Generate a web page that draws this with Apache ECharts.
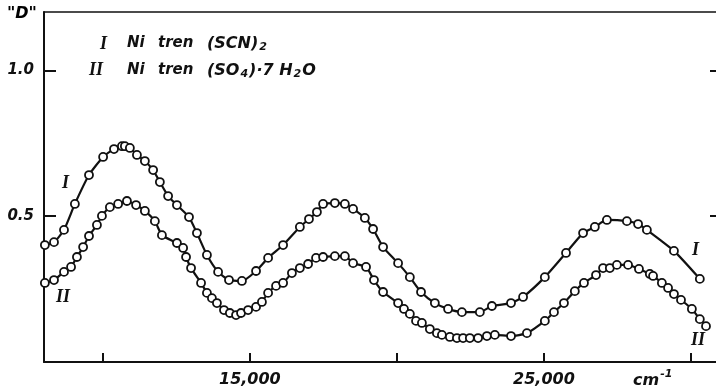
<!DOCTYPE html>
<html lang="en">
<head>
    <meta charset="utf-8" />
    <title>Ni tren spectra</title>
    <script src="https://cdn.jsdelivr.net/npm/echarts@6/dist/echarts.min.js"></script>
    <style>
        html, body { margin: 0; padding: 0; background: #fff; }
        #main { width: 716px; height: 389px; }
    </style>
</head>
<body>
<div id="main"></div>
<script>
    // curve I : Ni tren (SCN)2
    var waveI = [8030, 8340, 8680, 9050, 9530, 10010, 10380, 10650, 10750, 10920, 11160, 11430, 11710, 11940,
        12220, 12520, 12930, 13200, 13540, 13920, 14290, 14730, 15210, 15620, 16130, 16700, 17010, 17280, 17490,
        17890, 18230, 18510, 18910, 19190, 19530, 20040, 20440, 20820, 21290, 21740, 22210, 22820, 23230, 23880,
        24290, 25030, 25750, 26330, 26730, 27140, 27820, 28200, 28500, 29420, 30300];
    var absI = [0.401, 0.411, 0.453, 0.542, 0.641, 0.703, 0.730, 0.740, 0.740, 0.734, 0.710, 0.689, 0.658, 0.617,
        0.569, 0.538, 0.497, 0.442, 0.367, 0.309, 0.281, 0.278, 0.312, 0.357, 0.401, 0.463, 0.490, 0.514, 0.542,
        0.545, 0.542, 0.525, 0.494, 0.456, 0.394, 0.339, 0.291, 0.240, 0.202, 0.182, 0.171, 0.171, 0.192, 0.202,
        0.223, 0.291, 0.374, 0.442, 0.463, 0.487, 0.483, 0.473, 0.453, 0.381, 0.285];

    // curve II : Ni tren (SO4)·7H2O
    var waveII = [8030, 8340, 8680, 8920, 9120, 9330, 9530, 9800, 9970, 10240, 10520, 10820, 11130, 11430, 11770,
        12010, 12520, 12730, 12830, 13000, 13340, 13540, 13710, 13880, 14120, 14320, 14530, 14700, 14940, 15210,
        15410, 15620, 15890, 16130, 16430, 16700, 16980, 17250, 17490, 17890, 18230, 18510, 18950, 19220, 19530,
        20040, 20240, 20440, 20650, 20850, 21120, 21360, 21530, 21800, 22040, 22250, 22480, 22760, 23060, 23330,
        23880, 24420, 25030, 25340, 25680, 26050, 26360, 26770, 27010, 27240, 27480, 27860, 28230, 28600, 28710,
        29010, 29220, 29420, 29660, 30030, 30300, 30510];
    var absII = [0.271, 0.281, 0.309, 0.326, 0.360, 0.394, 0.432, 0.470, 0.501, 0.531, 0.542, 0.552, 0.538, 0.518,
        0.483, 0.435, 0.408, 0.391, 0.360, 0.322, 0.271, 0.237, 0.219, 0.202, 0.178, 0.168, 0.161, 0.168, 0.178,
        0.189, 0.206, 0.237, 0.261, 0.271, 0.305, 0.322, 0.336, 0.357, 0.360, 0.363, 0.363, 0.339, 0.326, 0.281,
        0.240, 0.202, 0.182, 0.165, 0.141, 0.134, 0.113, 0.099, 0.093, 0.086, 0.082, 0.082, 0.082, 0.082, 0.089,
        0.093, 0.089, 0.099, 0.141, 0.171, 0.202, 0.243, 0.271, 0.298, 0.322, 0.322, 0.333, 0.333, 0.319, 0.302,
        0.295, 0.271, 0.254, 0.233, 0.213, 0.182, 0.147, 0.123];

    var xTicks = [10000, 15000, 20000, 25000, 30000];
    var xLabels = [15000, 25000];
    var yTicks = [0.5, 1.0];

    function pairs(xs, ys) {
        var out = [];
        for (var i = 0; i < xs.length; i++) out.push([xs[i], ys[i]]);
        return out;
    }

    var ink = '#111';
    var numFont = { color: ink, fontFamily: 'DejaVu Sans', fontWeight: 'bold', fontStyle: 'italic' };

    var chart = echarts.init(document.getElementById('main'));

    function curve(name, data) {
        return {
            name: name,
            type: 'line',
            data: data,
            smooth: 0.2,
            symbol: 'circle',
            symbolSize: 8,
            showSymbol: true,
            lineStyle: { color: ink, width: 2.2 },
            itemStyle: { color: '#fff', borderColor: ink, borderWidth: 1.8 },
            z: 3
        };
    }

    var option = {
        animation: false,
        backgroundColor: '#fff',
        grid: { left: 44, top: 12, width: 672, height: 350, containLabel: false },
        xAxis: [{
            type: 'value',
            min: 8000,
            max: 30850,
            position: 'bottom',
            axisLine: { show: true, onZero: false, lineStyle: { color: ink, width: 2 } },
            axisTick: { show: true, inside: true, length: 9, customValues: xTicks, lineStyle: { color: ink, width: 2 } },
            axisLabel: Object.assign({ customValues: xLabels, margin: 10, fontSize: 16 }, numFont),
            splitLine: { show: false }
        }, {
            type: 'value',
            min: 8000,
            max: 30850,
            position: 'top',
            axisLine: { show: true, onZero: false, lineStyle: { color: ink, width: 1.5 } },
            axisTick: { show: false },
            axisLabel: { show: false },
            splitLine: { show: false }
        }],
        yAxis: [{
            type: 'value',
            min: 0,
            max: 1.2,
            position: 'left',
            axisLine: { show: true, onZero: false, lineStyle: { color: ink, width: 2 } },
            axisTick: { show: true, inside: true, length: 12, customValues: yTicks, lineStyle: { color: ink, width: 2 } },
            axisLabel: Object.assign({
                customValues: yTicks, margin: 10, fontSize: 15,
                formatter: function (v) { return v.toFixed(1); }
            }, numFont),
            splitLine: { show: false }
        }, {
            type: 'value',
            min: 0,
            max: 1.2,
            position: 'right',
            axisLine: { show: false },
            axisTick: { show: true, inside: true, length: 6, customValues: yTicks, lineStyle: { color: ink, width: 2 } },
            axisLabel: { show: false },
            splitLine: { show: false }
        }],
        series: [
            curve('I', pairs(waveI, absI)),
            curve('II', pairs(waveII, absII))
        ],
        graphic: [
            { type: 'text', left: 7, top: 6, style: Object.assign({ text: '"D"', fontSize: 16 }, numFont) },
            // legend
            { type: 'text', left: 100, top: 35, style: { text: 'I', fill: ink, font: 'italic bold 18px "Liberation Serif"' } },
            { type: 'text', left: 127, top: 36, style: { text: 'Ni', fill: ink, font: 'italic bold 15px "DejaVu Sans"' } },
            { type: 'text', left: 158, top: 36, style: { text: 'tren', fill: ink, font: 'italic bold 15px "DejaVu Sans"' } },
            { type: 'text', left: 207, top: 36, style: {
                text: '{a|(SCN)}{s|2}',
                rich: {
                    a: { fill: ink, font: 'italic bold 16px "DejaVu Sans"' },
                    s: { fill: ink, font: 'italic bold 11px "DejaVu Sans"', padding: [7, 0, 0, 1] }
                }
            } },
            { type: 'text', left: 89, top: 61, style: { text: 'II', fill: ink, font: 'italic bold 18px "Liberation Serif"' } },
            { type: 'text', left: 127, top: 63, style: { text: 'Ni', fill: ink, font: 'italic bold 15px "DejaVu Sans"' } },
            { type: 'text', left: 158, top: 63, style: { text: 'tren', fill: ink, font: 'italic bold 15px "DejaVu Sans"' } },
            { type: 'text', left: 207, top: 63, style: {
                text: '{a|(SO}{s|4}{a|)·7 H}{s|2}{a|O}',
                rich: {
                    a: { fill: ink, font: 'italic bold 16px "DejaVu Sans"' },
                    s: { fill: ink, font: 'italic bold 11px "DejaVu Sans"', padding: [7, 1, 0, 1] }
                }
            } },
            // curve labels
            { type: 'text', left: 62, top: 174, style: { text: 'I', fill: ink, font: 'italic bold 18px "Liberation Serif"' } },
            { type: 'text', left: 56, top: 288, style: { text: 'II', fill: ink, font: 'italic bold 18px "Liberation Serif"' } },
            { type: 'text', left: 692, top: 241, style: { text: 'I', fill: ink, font: 'italic bold 18px "Liberation Serif"' } },
            { type: 'text', left: 691, top: 331, style: { text: 'II', fill: ink, font: 'italic bold 18px "Liberation Serif"' } },
            // unit
            { type: 'text', left: 633, top: 369, style: {
                text: '{a|cm}{s|-1}',
                rich: {
                    a: { fill: ink, font: 'italic bold 16px "DejaVu Sans"', padding: [4, 0, 0, 0] },
                    s: { fill: ink, font: 'italic bold 11px "DejaVu Sans"', padding: [0, 0, 8, 1] }
                }
            } }
        ]
    };

    chart.setOption(option);
</script>
</body>
</html>
